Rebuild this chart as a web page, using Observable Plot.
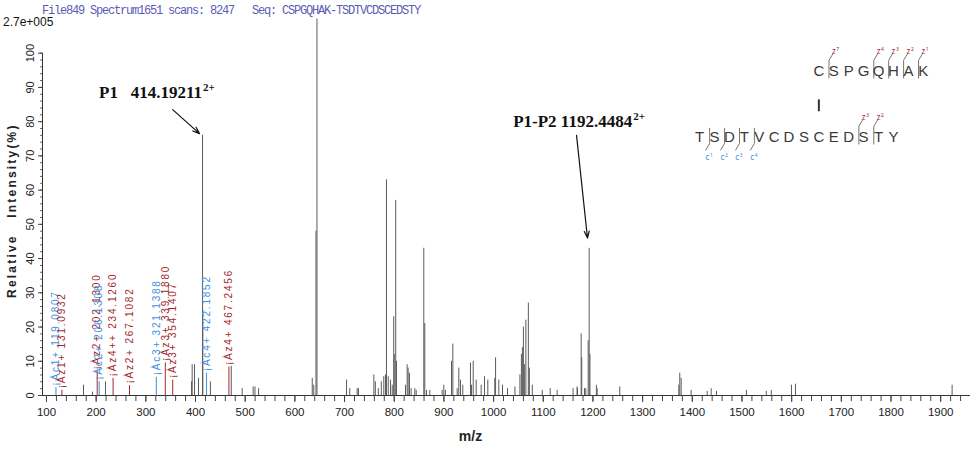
<!DOCTYPE html>
<html><head><meta charset="utf-8">
<script src="https://cdn.jsdelivr.net/npm/d3@7"></script>
<script src="https://cdn.jsdelivr.net/npm/@observablehq/plot@0.6"></script>
<style>
body{margin:0;background:#fff;}
#wrap{position:relative;width:979px;height:451px;overflow:hidden;background:#fff;}
#chart{position:absolute;left:0;top:0;}
#title{position:absolute;left:42px;top:4px;font-family:"Liberation Mono",monospace;font-size:12px;letter-spacing:-1.2px;color:#5c5cb4;white-space:pre;}
#maxint{position:absolute;left:3px;top:15px;font-family:"Liberation Sans",Arial,sans-serif;font-size:12px;color:#111;}
#pep{position:absolute;left:680px;top:40px;}
svg text{white-space:pre;}
</style></head><body>
<div id="wrap"><div id="chart"></div><div id="title"></div><div id="maxint"></div><div id="pep"></div></div>
<script>
// ---------- data ----------
const titleText = "File849 Spectrum1651 scans: 8247   Seq: CSPGQHAK-TSDTVCDSCEDSTY";
const maxIntensityText = "2.7e+005";

// unannotated peaks (m/z, relative intensity %)
const peakMz = [174.5,192.6,218.8,392,393.3,398,406,414.19211,414.69,430,472,494,516,519.7,527,
  635,638,642.5,644.5,704,710.5,725.5,728,759,762,768,774,779,782.4,784.4,788,792.5,796,799,800,803,804.6,
  822.7,826,828,830.7,834,841.4,844.2,859.5,861.5,865,871.6,896.5,899.8,903,915.3,918,926.7,930,933.4,938,
  953.5,955.5,959,965,975,981.7,988.4,1002.4,1004,1010.5,1018,1028,1043,1053,1056,1058,1060,1062,1065,1070,
  1072,1078,1098,1114,1128,1160,1168,1169,1176.3,1177.5,1183,1185.6,1190.4,1192.4484,1194,1207,1208.4,1254,
  1372.8,1374.8,1377.6,1397.7,1430,1438,1448.7,1509,1549,1559,1599.6,1607.7,1923];
const peakIntensity = [3,1,4,4,9,9,5,76,25,4,8.5,2,2.5,2.5,2,
  5,3,48,110,4.5,2,2,2,6,4,2,4,5.5,6,63,5.5,4.5,3,23,12,57,10,
  3,9,8,6.5,2,2,1.5,43,21,1.5,1.5,1.5,3,1.5,10,15,2,8,4.5,3,
  9.5,3,10,4.5,3,5.5,4.5,5,11,4.5,3,2,2.5,6,12,14,20,9,22,27,
  8,3,1.5,2,1.5,2,2.5,2,18,11,2,2,16,43,12,3,2,2.5,
  3,6.5,5,1.5,1.2,2,1.2,1.5,1.2,1.5,3,3.3,3];

// annotated fragment ions
const ionNames = ["c1+","z1+","z2+","c2+","z4++","z2+","c3+","z3+","z3+","c4+","z4+"];
const ionMz = [119.0807,131.0932,202.1300,206.1308,234.1260,267.1082,321.1388,339.1880,354.1407,422.1852,467.2456];
const ionIntensity = [2.3,1.5,7,4,5,2.9,5.3,9.5,4.5,6.5,8.3];
const ionSeries = ["c","z","z","c","z","z","c","z","z","c","z"];

// precursor callouts
const calloutText = ["P1   414.19211", "P1-P2 1192.4484"];
const calloutCharge = ["2+", "2+"];
const calloutLabelMz = [413, 1279];
const calloutLabelY = [87, 78.5];
const arrowFromMz = [354, 1167];
const arrowFromY = [83.5, 76];
const arrowToMz = [408, 1189];
const arrowToY = [76.5, 46];

// axes
const xTickValues = d3.range(100, 2000, 100);
const xMinorTicks = d3.range(100, 1960, 20);
const yTickValues = d3.range(0, 101, 10);
const yMinorTicks = d3.range(0, 101, 2);
const yAxisTitle = "Relative   Intensity(%)";
const xAxisTitle = "m/z";

// peptide diagram
const bottomChain = ["T","S","D","T","V","C","D","S","C","E","D","S","T","Y"];
const topChain = ["C","S","P","G","Q","H","A","K"];
const linkBottomIndex = 8; // C of bottom chain linked to C of top chain
const topZIons = [[1,7],[4,4],[5,3],[6,2],[7,1]];      // [residue index in top chain, z number]
const bottomZIons = [[11,3],[12,2]];                   // [residue index in bottom chain, z number]
const bottomCIons = [[1,1],[2,2],[3,3],[4,4]];         // [residue index after cleavage, c number]

// ---------- build ----------
const sans = "'Liberation Sans',Arial,sans-serif";
const serif = "'Liberation Serif','Times New Roman',serif";
const seriesColor = {c: "#3b8fe2", z: "#a3282d"};

const peaks = peakMz.map((mz, i) => ({mz, intensity: peakIntensity[i]}));
const ions = ionNames.map((name, i) => ({name, mz: ionMz[i], intensity: ionIntensity[i], series: ionSeries[i]}));
const callouts = calloutText.map((text, i) => ({
  text, charge: calloutCharge[i], labelMz: calloutLabelMz[i], labelY: calloutLabelY[i],
  fromMz: arrowFromMz[i], fromY: arrowFromY[i], toMz: arrowToMz[i], toY: arrowToY[i]
}));

document.getElementById("title").textContent = titleText;
document.getElementById("maxint").textContent = maxIntensityText;

const xMin = 92;
const chart = Plot.plot({
  width: 979, height: 451,
  marginLeft: 42, marginRight: 9, marginTop: 15, marginBottom: 56,
  x: {domain: [xMin, 1960], label: null},
  y: {domain: [0, 111], label: null},
  style: {background: "white", fontFamily: sans, overflow: "visible"},
  marks: [
    Plot.ruleX(peaks, {x: "mz", y1: 0, y2: "intensity", stroke: "#5c5c5c", strokeWidth: 1}),
    Plot.ruleX(ions, {x: "mz", y1: 0, y2: "intensity", stroke: d => seriesColor[d.series], strokeWidth: 1}),
    Plot.text(ions, {x: "mz", y: "intensity", text: d => "¡À" + d.name + " " + d.mz.toFixed(4),
      rotate: -90, textAnchor: "start", dy: -2, fill: d => seriesColor[d.series], fontSize: 10}),
    Plot.ruleY([0], {stroke: "#333"}),
    Plot.ruleX([xMin], {y1: 0, y2: 100, stroke: "#333"}),
    Plot.axisX({ticks: xMinorTicks, tickSize: 6, tickFormat: () => "", stroke: "#444"}),
    Plot.axisX({ticks: xTickValues, tickSize: 7, tickPadding: 5, tickFormat: d => String(d), fontSize: 11.5, fill: "#222", stroke: "#444"}),
    Plot.axisY({ticks: yMinorTicks, tickSize: 2, tickFormat: () => "", stroke: "#666"}),
    Plot.axisY({ticks: yTickValues, tickSize: 4, tickFormat: () => "", stroke: "#444"}),
    Plot.text(yTickValues, {x: xMin, y: d => d, text: d => String(d), rotate: -90, dx: -12, fontSize: 11, fill: "#222"}),
    Plot.text([yAxisTitle], {x: xMin, y: () => 54, text: d => d, rotate: -90, dx: -30, fontSize: 12, fontWeight: "bold", fill: "#222"}),
    Plot.text([xAxisTitle], {frameAnchor: "bottom", dx: -36, dy: 45, fontSize: 14, fontWeight: "bold", fill: "#222"}),
    Plot.arrow(callouts, {x1: "fromMz", y1: "fromY", x2: "toMz", y2: "toY", stroke: "#111", strokeWidth: 1.2, headLength: 9, headAngle: 40}),
    Plot.text(callouts, {x: "labelMz", y: "labelY", text: "text", textAnchor: "end", lineAnchor: "bottom",
      fontFamily: serif, fontWeight: "bold", fontSize: 17, fill: "#111"}),
    Plot.text(callouts, {x: "labelMz", y: "labelY", text: "charge", textAnchor: "start", lineAnchor: "bottom",
      dx: 1, dy: -7, fontFamily: serif, fontWeight: "bold", fontSize: 11, fill: "#111"})
  ]
});
chart.querySelectorAll("text").forEach(t => {
  if (t.textContent.startsWith("¡À")) t.setAttribute("letter-spacing", "1.8");
  if (t.textContent.startsWith("Relative")) t.setAttribute("letter-spacing", "2.2");
});
document.getElementById("chart").appendChild(chart);

// peptide diagram
const residues = [
  ...bottomChain.map((aa, i) => ({aa, pos: i, row: 0})),
  ...topChain.map((aa, i) => ({aa, pos: i + linkBottomIndex, row: 1}))
];
const zMarks = [
  ...topZIons.map(([i, n]) => ({p: i + linkBottomIndex, row: 1, n})),
  ...bottomZIons.map(([i, n]) => ({p: i, row: 0, n}))
];
const cMarks = bottomCIons.map(([i, n]) => ({p: i, row: 0, n}));
const markLines = [];
zMarks.forEach((m, k) => {
  markLines.push({id: "z" + k, x: m.p - 0.32, y: m.row - 0.1});
  markLines.push({id: "z" + k, x: m.p - 0.32, y: m.row + 0.17});
  markLines.push({id: "z" + k, x: m.p - 0.08, y: m.row + 0.26});
});
cMarks.forEach((m, k) => {
  markLines.push({id: "c" + k, x: m.p - 0.32, y: m.row + 0.14});
  markLines.push({id: "c" + k, x: m.p - 0.32, y: m.row - 0.09});
  markLines.push({id: "c" + k, x: m.p - 0.58, y: m.row - 0.19});
});

const pep = Plot.plot({
  width: 260, height: 130, margin: 0,
  x: {domain: [0, 15], range: [19, 242.8], axis: null},
  y: {domain: [0, 1], range: [97, 31], axis: null},
  style: {background: "transparent", overflow: "visible"},
  marks: [
    Plot.line(markLines, {x: "x", y: "y", z: "id", stroke: "#666", strokeWidth: 0.9}),
    Plot.text(residues, {x: "pos", y: "row", text: "aa", fontSize: 15, fontFamily: sans, fill: "#3a3a3a"}),
    Plot.ruleX([linkBottomIndex], {y1: 0.39, y2: 0.57, stroke: "#333", strokeWidth: 2}),
    Plot.text(zMarks, {x: "p", y: d => d.row + 0.3, text: () => "z", fontSize: 8, fill: seriesColor.z}),
    Plot.text(zMarks, {x: "p", y: d => d.row + 0.3, text: d => String(d.n), dx: 4, dy: -2, fontSize: 5, fill: seriesColor.z}),
    Plot.text(cMarks, {x: d => d.p - 0.47, y: d => d.row - 0.3, text: () => "c", fontSize: 8, fill: seriesColor.c}),
    Plot.text(cMarks, {x: d => d.p - 0.47, y: d => d.row - 0.3, text: d => String(d.n), dx: 4, dy: -2, fontSize: 5, fill: seriesColor.c})
  ]
});
document.getElementById("pep").appendChild(pep);
</script></body></html>
